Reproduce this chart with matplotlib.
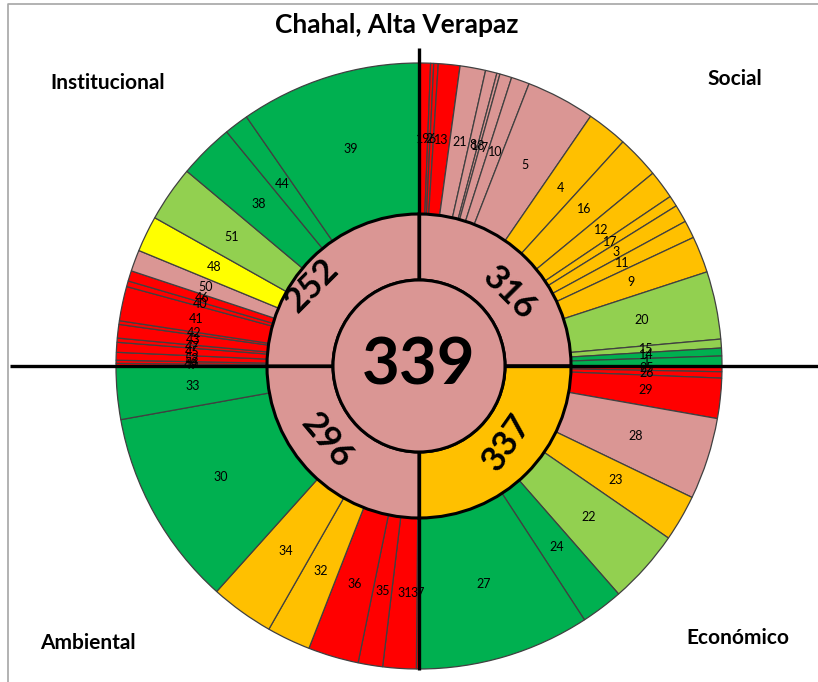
import numpy as np
import matplotlib.pyplot as plt

# outer ring, clockwise from 12 o'clock, one quadrant at a time
# spans are the angular share of each item inside its quadrant (each quadrant sums to 90)
social_ids = [19, 2, 6, 13, 21, 8, 18, 7, 10, 5, 4, 16, 12, 17, 3, 11, 9, 20, 15, 14, 1]
social_spans = [2.2, 0.6, 0.85, 4.15, 4.9, 2.2, 0.6, 2.3, 3.5, 13.2, 7.8, 8.2, 5.5, 2.1, 3.4, 3.4, 7.0, 13.0, 1.7, 1.5, 1.9]
social_status = ['R', 'R', 'R', 'R', 'P', 'P', 'P', 'P', 'P', 'P', 'O', 'O', 'O', 'O', 'O', 'O', 'O', 'LG', 'LG', 'G', 'G']

econ_ids = [25, 26, 29, 28, 23, 22, 24, 27]
econ_spans = [1.1, 1.2, 7.7, 15.7, 8.9, 14.2, 8.1, 33.1]
econ_status = ['R', 'R', 'R', 'P', 'O', 'LG', 'G', 'G']

amb_ids = [37, 31, 35, 36, 32, 34, 30, 33]
amb_spans = [0.5, 6.4, 4.7, 9.7, 8.4, 12.2, 37.9, 10.2]
amb_status = ['R', 'R', 'R', 'R', 'O', 'O', 'G', 'G']

inst_ids = [49, 53, 52, 45, 47, 43, 42, 41, 40, 46, 50, 48, 51, 38, 44, 39]
inst_spans = [0.5, 0.6, 1.5, 1.9, 0.8, 2.6, 0.7, 6.6, 1.1, 2.0, 4.1, 6.9, 10.7, 10.6, 4.7, 34.7]
inst_status = ['R', 'R', 'R', 'R', 'R', 'R', 'R', 'R', 'R', 'R', 'P', 'Y', 'LG', 'G', 'G', 'G']

# inner ring (same clockwise order) and centre
quad_names = ['Social', 'Económico', 'Ambiental', 'Institucional']
quad_scores = [316, 337, 296, 252]
quad_status = ['P', 'O', 'P', 'P']
total_score = 339
total_status = 'P'

palette = {'R': '#FF0000', 'P': '#DA9694', 'O': '#FFC000',
           'Y': '#FFFF00', 'LG': '#92D050', 'G': '#00B050'}

plt.rcParams['font.family'] = ['Lato', 'DejaVu Sans']

W, H = 818, 682
fig = plt.figure(figsize=(W / 100, H / 100), dpi=100)
ax = fig.add_axes([0, 0, 1, 1])

cx, cy = 419, H - 366
r_out, r_mid, r_in = 303, 152, 86

ids = social_ids + econ_ids + amb_ids + inst_ids
spans = social_spans + econ_spans + amb_spans + inst_spans
status = social_status + econ_status + amb_status + inst_status

wedges, texts = ax.pie(spans, labels=[str(i) for i in ids],
                       colors=[palette[s] for s in status],
                       radius=r_out, center=(cx, cy), startangle=90, counterclock=False,
                       labeldistance=(r_out + r_mid) / 2 / r_out,
                       wedgeprops=dict(width=r_out - r_mid, edgecolor='#404040', linewidth=0.9),
                       textprops=dict(fontsize=9, color='black'))
for t in texts:
    t.set_ha('center')
    t.set_va('center')

quad_sums = [sum(social_spans), sum(econ_spans), sum(amb_spans), sum(inst_spans)]
wq, tq = ax.pie(quad_sums, labels=[str(s) for s in quad_scores],
                colors=[palette[s] for s in quad_status],
                radius=r_mid, center=(cx, cy), startangle=90, counterclock=False,
                labeldistance=119 / r_mid,
                wedgeprops=dict(width=r_mid - r_in, edgecolor='black', linewidth=2.2),
                textprops=dict(fontsize=25, fontweight='bold', color='black'))
# where the score labels sit (compass angle, radius) and their tilt
lab_ang = [51, 131, 231, 307]
lab_rad = [116, 116, 119, 134]
lab_rot = [-45, 55, -50, 45]
for t, a, r, rot in zip(tq, lab_ang, lab_rad, lab_rot):
    t.set_position((cx + r * np.sin(np.radians(a)), cy + r * np.cos(np.radians(a))))
    t.set_ha('center')
    t.set_va('center')
    t.set_rotation(rot)
    t.set_rotation_mode('anchor')

# quadrant cross
ax.plot([10, W], [cy, cy], color='black', lw=2.4, zorder=2, solid_capstyle='butt')
ax.plot([cx, cx], [H - 48, H - 670], color='black', lw=2.4, zorder=2, solid_capstyle='butt')

wc, tc = ax.pie([1], labels=[str(total_score)], colors=[palette[total_status]],
                radius=r_in, center=(cx, cy), labeldistance=0,
                wedgeprops=dict(edgecolor='black', linewidth=2.2, zorder=4),
                textprops=dict(fontsize=47, fontweight='bold', color='black', zorder=5))
for t in tc:
    t.set_ha('center')
    t.set_va('center')

# titles
ax.text(397, H - 25, 'Chahal, Alta Verapaz', ha='center', va='center',
        fontsize=19, fontweight='bold')
for name, (x, y) in zip(quad_names, [(735, 79), (738, 638), (88, 643), (108, 83)]):
    ax.text(x, H - y, name, ha='center', va='center', fontsize=15, fontweight='bold')

# chart area frame
ax.plot([8, 8, W + 5], [-5, H - 4, H - 4], color='#A6A6A6', lw=1.2)

ax.set_xlim(0, W)
ax.set_ylim(0, H)
ax.set_aspect('equal')
ax.axis('off')

fig.savefig('out.png', dpi=100)
